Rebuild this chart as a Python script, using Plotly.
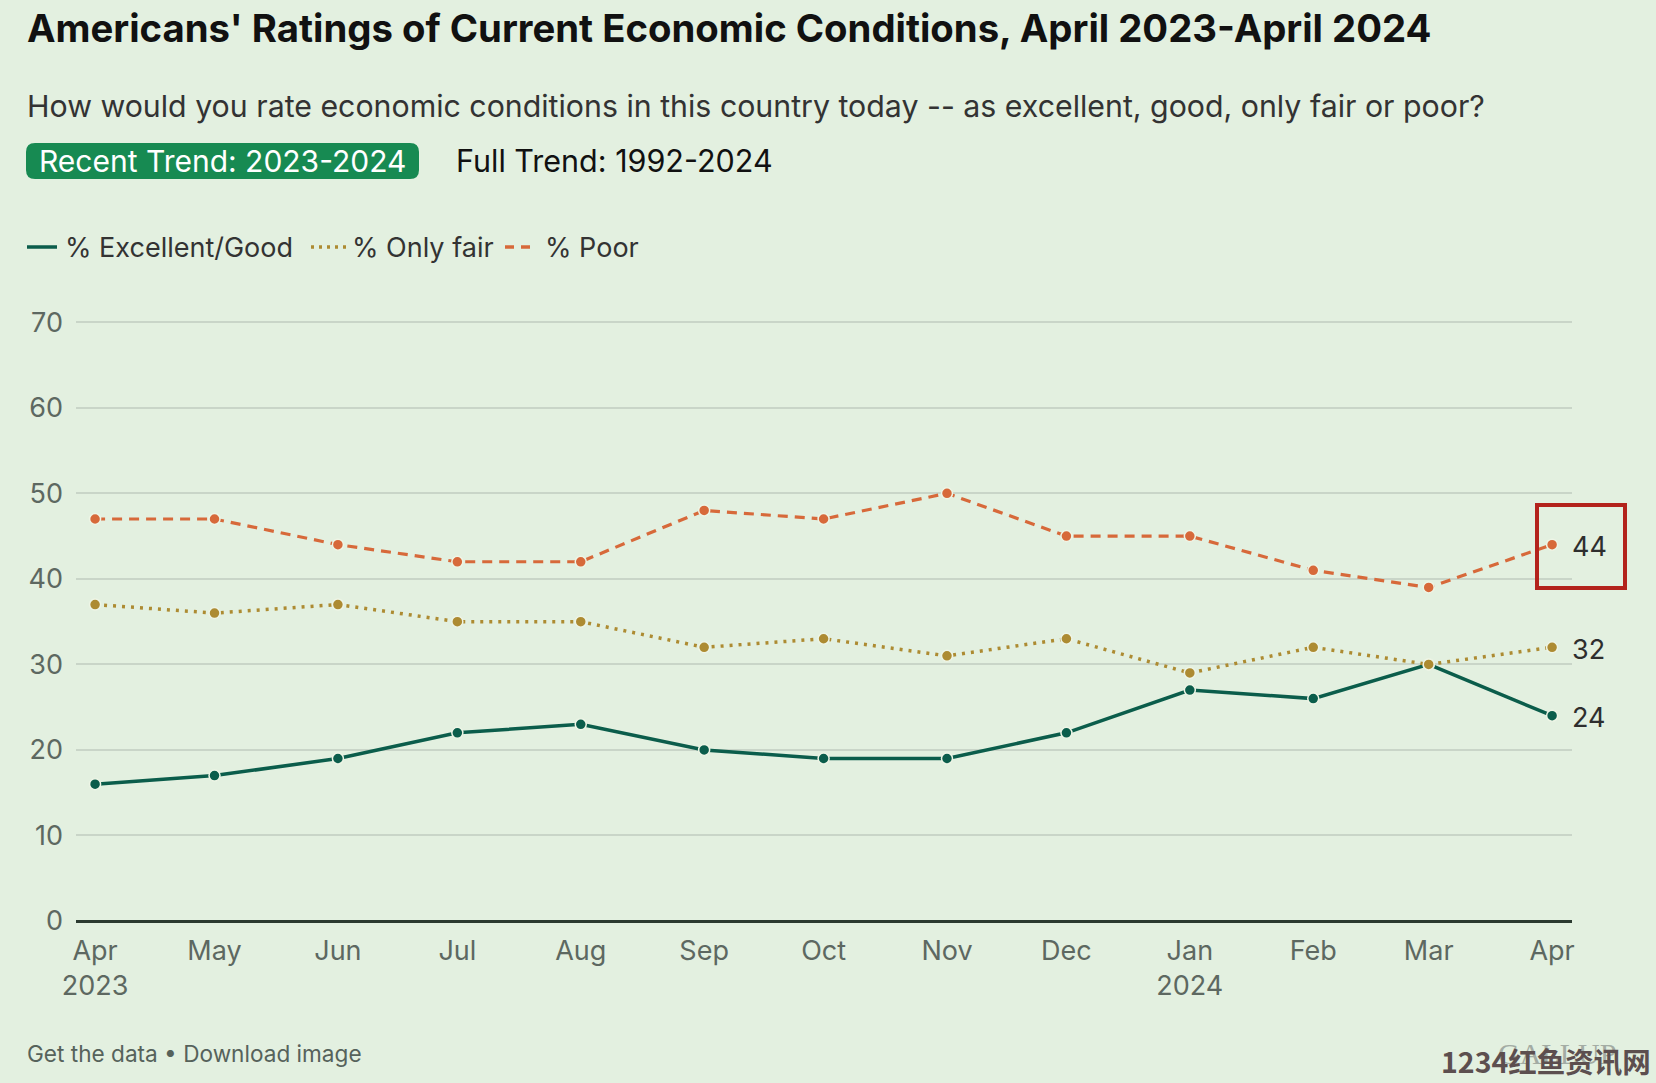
import plotly.graph_objects as go

# ---------------- data ----------------
dates = ["2023-04-01", "2023-05-01", "2023-06-01", "2023-07-01", "2023-08-01",
         "2023-09-01", "2023-10-01", "2023-11-01", "2023-12-01", "2024-01-01",
         "2024-02-01", "2024-03-01", "2024-04-01"]
tick_labels = ["Apr<br>2023", "May", "Jun", "Jul", "Aug", "Sep", "Oct", "Nov",
               "Dec", "Jan<br>2024", "Feb", "Mar", "Apr"]
excellent_good = [16, 17, 19, 22, 23, 20, 19, 19, 22, 27, 26, 30, 24]
only_fair = [37, 36, 37, 35, 35, 32, 33, 31, 33, 29, 32, 30, 32]
poor = [47, 47, 44, 42, 42, 48, 47, 50, 45, 45, 41, 39, 44]
series_names = ["% Excellent/Good", "% Only fair", "% Poor"]
y_ticks = [0, 10, 20, 30, 40, 50, 60, 70]

# ---------------- style ----------------
W, H = 1656, 1083
L, R, T, B = 76, 1572, 318, 921
BG = "#e3f0e0"
C_EG = "#0b5d4b"
C_FAIR = "#ad8b32"
C_POOR = "#d7693a"
FONT = "Inter, Roboto, 'Liberation Sans', Arial, sans-serif"
TICK_C = "#5d6861"


def px(x):
    return (x - L) / (R - L)


def py(y):
    return (B - y) / (B - T)


fig = go.Figure()

styles = [
    (excellent_good, C_EG, "solid", 3.5),
    (only_fair, C_FAIR, "3px,6px", 3.5),
    (poor, C_POOR, "10px,7px", 3.2),
]
for name, (vals, col, dash, lw) in zip(series_names, styles):
    fig.add_trace(go.Scatter(
        x=dates, y=vals, name=name, mode="lines+markers",
        line=dict(color=col, width=lw, dash=dash),
        marker=dict(color=col, size=11, line=dict(color="#eef5e6", width=1.5)),
        showlegend=False, hoverinfo="x+y+name",
    ))

annotations = []
shapes = []

# end labels
for vals in (poor, only_fair, excellent_good):
    annotations.append(dict(
        x=dates[-1], y=vals[-1], xref="x", yref="y", text=str(vals[-1]),
        showarrow=False, xanchor="left", yanchor="middle", xshift=18, yshift=-2,
        font=dict(family=FONT, size=27, color="#2e2e2e"),
    ))

# highlight box around last "Poor" value
shapes.append(dict(type="rect", xref="paper", yref="paper",
                   x0=px(1537), x1=px(1625), y0=py(588), y1=py(505),
                   line=dict(color="#b3231c", width=4), fillcolor="rgba(0,0,0,0)",
                   layer="above"))

# title & subtitle
annotations.append(dict(
    x=px(25), y=py(28), xref="paper", yref="paper", xanchor="left", yanchor="middle",
    text="<b>Americans' Ratings of Current Economic Conditions, April 2023-April 2024</b>",
    showarrow=False, font=dict(family=FONT, size=38.3, color="#111111")))
annotations.append(dict(
    x=px(25), y=py(106), xref="paper", yref="paper", xanchor="left", yanchor="middle",
    text="How would you rate economic conditions in this country today -- as excellent, good, only fair or poor?",
    showarrow=False, font=dict(family=FONT, size=30.3, color="#333333")))

# toggle buttons
x0, x1, y0, y1, r = 26, 419, 143, 179, 9
path = (f"M {px(x0 + r)},{py(y0)} L {px(x1 - r)},{py(y0)} "
        f"Q {px(x1)},{py(y0)} {px(x1)},{py(y0 + r)} L {px(x1)},{py(y1 - r)} "
        f"Q {px(x1)},{py(y1)} {px(x1 - r)},{py(y1)} L {px(x0 + r)},{py(y1)} "
        f"Q {px(x0)},{py(y1)} {px(x0)},{py(y1 - r)} L {px(x0)},{py(y0 + r)} "
        f"Q {px(x0)},{py(y0)} {px(x0 + r)},{py(y0)} Z")
shapes.append(dict(type="path", xref="paper", yref="paper", path=path,
                   fillcolor="#178a52", line=dict(width=0)))
annotations.append(dict(
    x=px((x0 + x1) / 2), y=py(161), xref="paper", yref="paper",
    xanchor="center", yanchor="middle", text="Recent Trend: 2023-2024",
    showarrow=False, font=dict(family=FONT, size=30, color="#ffffff")))
annotations.append(dict(
    x=px(454), y=py(161), xref="paper", yref="paper",
    xanchor="left", yanchor="middle", text="Full Trend: 1992-2024",
    showarrow=False, font=dict(family=FONT, size=30.5, color="#111111")))

# custom legend
legend_items = [
    (27, 57, 63, C_EG, "solid"),
    (311, 347, 350, C_FAIR, "3px,5px"),
    (505, 533, 543, C_POOR, "9px,7px"),
]
for name, (lx0, lx1, tx, col, dash) in zip(series_names, legend_items):
    shapes.append(dict(type="line", xref="paper", yref="paper",
                       x0=px(lx0), x1=px(lx1), y0=py(247), y1=py(247),
                       line=dict(color=col, width=3.5, dash=dash)))
    annotations.append(dict(
        x=px(tx), y=py(247), xref="paper", yref="paper", xanchor="left",
        yanchor="middle", text=name, showarrow=False,
        font=dict(family=FONT, size=27, color="#333333")))

# footer
annotations.append(dict(
    x=px(25), y=py(1053), xref="paper", yref="paper", xanchor="left",
    yanchor="middle", text="Get the data • Download image", showarrow=False,
    font=dict(family=FONT, size=22.6, color="#56625b")))
annotations.append(dict(
    x=px(1557), y=py(1053), xref="paper", yref="paper", xanchor="center",
    yanchor="middle", text="GALLUP", showarrow=False,
    font=dict(family="'Liberation Serif', serif", size=30, color="#a3aca4")))
annotations.append(dict(
    x=px(1653), y=py(1060), xref="paper", yref="paper", xanchor="right",
    yanchor="middle", text="<b>1234红鱼资讯网</b>", showarrow=False,
    font=dict(family="'Noto Sans CJK SC', sans-serif", size=28.5, color="#5c4f4f")))

fig.update_layout(
    width=W, height=H, autosize=False,
    margin=dict(l=L, r=W - R, t=T, b=H - B, pad=0),
    paper_bgcolor=BG, plot_bgcolor=BG,
    font=dict(family=FONT, size=27, color=TICK_C),
    shapes=shapes, annotations=annotations, showlegend=False,
    xaxis=dict(
        type="date", range=["2023-03-27 05:00", "2024-04-06 00:00"],
        tickmode="array", tickvals=dates, ticktext=tick_labels,
        showgrid=False, zeroline=False, showline=False, ticks="",
        ticklabelstandoff=11,
        tickfont=dict(family=FONT, size=27, color=TICK_C),
    ),
    yaxis=dict(
        range=[0, 70.5], tickmode="array", tickvals=y_ticks,
        showgrid=True, gridcolor="#c9d5c8", gridwidth=1.5,
        zeroline=True, zerolinecolor="#2b3a30", zerolinewidth=2.5,
        showline=False, ticks="", ticklabelstandoff=12,
        tickfont=dict(family=FONT, size=27, color=TICK_C),
    ),
)

fig.write_html("out.html")
